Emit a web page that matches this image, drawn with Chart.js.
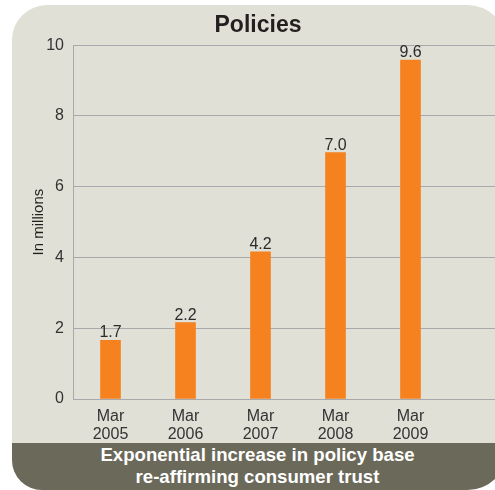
<!DOCTYPE html>
<html>
<head>
<meta charset="utf-8">
<script src="https://cdn.jsdelivr.net/npm/chart.js@4"></script>
<style>
  html, body { margin: 0; padding: 0; }
  body { width: 495px; height: 490px; overflow: hidden; background: #fff; position: relative; }
  .panel {
    position: absolute; left: 12px; top: 5px; width: 496px; height: 485px;
    background: #e1e0d6; border-radius: 35px 41px 41px 30px; overflow: hidden;
  }
  .banner {
    position: absolute; left: 0; right: 0; top: 438px; bottom: 0;
    background: #6b6959; color: #fff; text-align: center;
    font: bold 18.6px "Liberation Sans", Arial, sans-serif; line-height: 22.5px;
    padding: 0.6px 5px 0 0; box-sizing: border-box;
  }
  #chart { position: absolute; left: -7px; top: 0; }
</style>
</head>
<body>
<div class="panel">
  <div class="banner">Exponential increase in policy base<br>re-affirming consumer trust</div>
</div>
<canvas id="chart" width="530" height="443"></canvas>
<script>
const years = [["Mar", "2005"], ["Mar", "2006"], ["Mar", "2007"], ["Mar", "2008"], ["Mar", "2009"], ""];
const policies = [1.66, 2.16, 4.16, 6.96, 9.58];
const yTicks = [0, 2, 4, 6, 8, 10];

const sans = '"Liberation Sans", Arial, sans-serif';
const gridGray = "#a7a9ac";

// value above each bar
const barLabels = {
  id: "barLabels",
  afterDatasetsDraw(chart) {
    const ctx = chart.ctx;
    ctx.save();
    ctx.font = "16px " + sans;
    ctx.fillStyle = "#2b2b2b";
    ctx.textAlign = "center";
    ctx.textBaseline = "alphabetic";
    chart.getDatasetMeta(0).data.forEach((bar, i) => {
      ctx.fillText(policies[i].toFixed(1), bar.x, bar.y - 3);
    });
    ctx.restore();
  },
};

new Chart(document.querySelector("#chart").getContext("2d"), {
  type: "bar",
  data: {
    labels: years,
    datasets: [
      {
        label: "Policies",
        data: policies,
        backgroundColor: "#f5821f",
        barThickness: 20,
      },
    ],
  },
  options: {
    responsive: false,
    animation: false,
    devicePixelRatio: 1,
    layout: { padding: 0 },
    plugins: {
      legend: { display: false },
      tooltip: { enabled: false },
      title: {
        display: true,
        text: "Policies",
        color: "#231f20",
        font: { family: sans, size: 23, weight: "bold", lineHeight: 1.2 },
        padding: { top: 11.5, bottom: 6 },
      },
    },
    scales: {
      x: {
        grid: { display: false },
        border: { display: true, color: gridGray, width: 1 },
        ticks: {
          color: "#333",
          font: { family: sans, size: 16, lineHeight: 1.09 },
          padding: 1,
          maxRotation: 0,
          autoSkip: false,
        },
        afterFit: (scale) => {
          scale.height = 44;
        },
      },
      y: {
        min: 0,
        max: 10,
        afterBuildTicks: (scale) => {
          scale.ticks = yTicks.map((v) => ({ value: v }));
        },
        grid: { color: gridGray, lineWidth: 1, drawTicks: false },
        border: { display: true, color: gridGray, width: 1 },
        ticks: {
          color: "#333",
          font: { family: sans, size: 16 },
          padding: 9,
        },
        title: {
          display: true,
          text: "In millions",
          color: "#231f20",
          font: { family: sans, size: 15, lineHeight: 1.2 },
          padding: { top: 36.5, bottom: 0 },
        },
        afterFit: (scale) => {
          scale.width = 80;
        },
      },
    },
  },
  plugins: [barLabels],
});
</script>
</body>
</html>
